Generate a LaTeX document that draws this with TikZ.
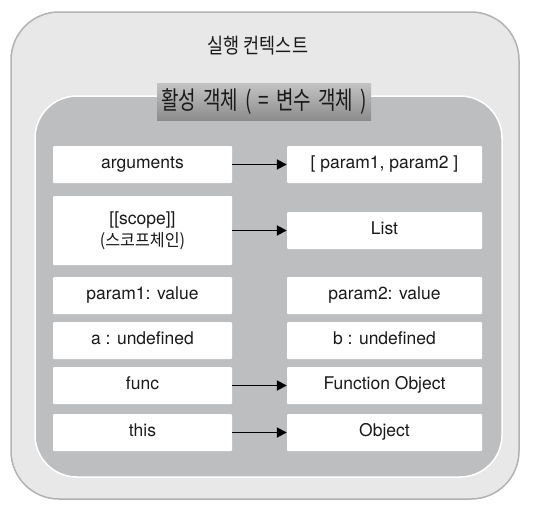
\documentclass[tikz,border=0pt]{standalone}
\usepackage{fontspec}
\setmainfont{TeX Gyre Heros}
\newfontfamily\krtitle[FakeStretch=0.83]{Noto Sans CJK KR}
\newfontfamily\krlabel[FakeStretch=0.76]{Noto Sans CJK KR}
\newfontfamily\krbox[FakeStretch=0.95]{Noto Sans CJK KR}
\usetikzlibrary{arrows.meta}
\definecolor{outerfill}{HTML}{E8E8E8}
\definecolor{outerline}{HTML}{B2B2B2}
\definecolor{innerfill}{HTML}{BDBEC0}
\definecolor{shtop}{HTML}{C4C4C4}
\definecolor{shmid}{HTML}{E6E6E6}
\definecolor{shbot}{HTML}{8C8C8C}
\definecolor{txt}{HTML}{1A1A1A}
\newcommand{\gp}{\hspace{7pt}}
\begin{document}
\begin{tikzpicture}[x=1pt,y=-1pt,
  cell/.style={fill=white, rounded corners=1pt, inner sep=0pt, minimum height=37pt,
    text=txt, font=\fontsize{17.5}{22}\selectfont, text height=12.6pt, text depth=3.7pt},
  lcell/.style={cell, minimum width=179pt},
  rcell/.style={cell, minimum width=195pt},
  scopecell/.style={fill=white, rounded corners=1pt, inner sep=0pt, minimum width=179pt,
    minimum height=69pt, align=center, text=txt, font=\fontsize{17.5}{22}\selectfont},
  actbox/.style={inner sep=0pt, minimum width=214pt, minimum height=37pt, text=txt,
    top color=shtop, middle color=shmid, bottom color=shbot,
    font=\krlabel\fontsize{25}{28}\selectfont},
  link/.style={line width=1.8pt, -{Triangle[length=10pt,width=10pt]}}]
\useasboundingbox (0,0) rectangle (534,514);
% containers
\draw[fill=outerfill, draw=outerline, line width=1.5pt, rounded corners=48pt] (11,12) rectangle (519,499);
\draw[fill=innerfill, draw=white, line width=1.5pt, rounded corners=42pt] (35,96) rectangle (502,477);
% title and label
\node[text=txt, font=\krtitle\fontsize{21}{25}\selectfont] (title) at (258,46) {실행 컨텍스트};
\node[actbox] (act) at (264,101.5) {활성\gp{}객체\gp{}(\gp{}=\gp{}변수\gp{}객체\gp{})};
% left column
\node[lcell] (arg) at (142.5,164.5) {arguments};
\node[scopecell] (scope) at (142.5,230.5) {[[scope]]\\{\krbox\fontsize{17}{22}\selectfont(스코프체인)}};
\node[lcell] (p1) at (142.5,295.5) {param1: value};
\node[lcell] (a) at (142.5,340.5) {a : undefined};
\node[lcell] (func) at (142.5,385.5) {func};
\node[lcell] (this) at (142.5,432.5) {this};
% right column
\node[rcell] (argv) at (384.5,164.5) {[ param1, param2 ]};
\node[rcell] (list) at (384.5,230.5) {List};
\node[rcell] (p2) at (384.5,295.5) {param2: value};
\node[rcell] (b) at (384.5,340.5) {b : undefined};
\node[rcell] (fobj) at (384.5,385.5) {Function Object};
\node[rcell] (obj) at (384.5,432.5) {Object};
% connectors
\draw[link] (arg.east) -- (argv.west);
\draw[link] (scope.east) -- (list.west);
\draw[link] (func.east) -- (fobj.west);
\draw[link] (this.east) -- (obj.west);
\end{tikzpicture}
\end{document}
